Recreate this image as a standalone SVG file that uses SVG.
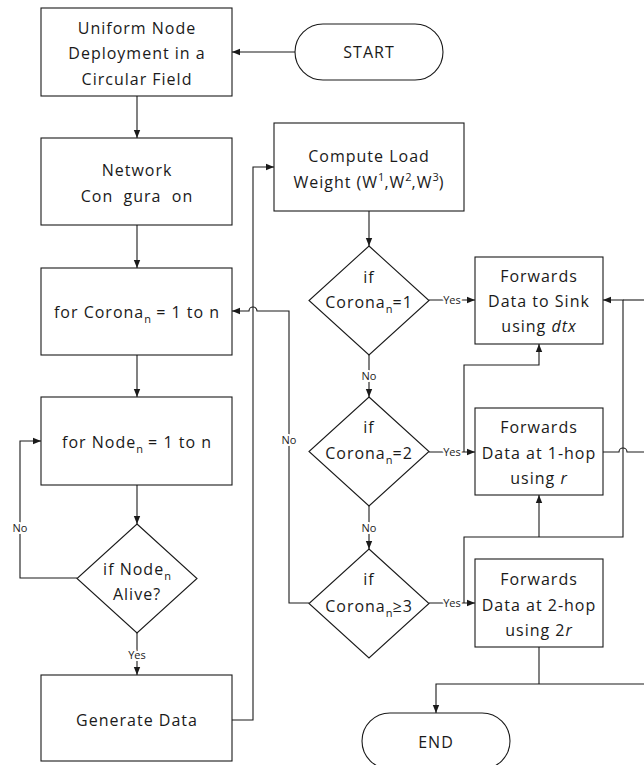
<svg xmlns="http://www.w3.org/2000/svg" width="644" height="765" viewBox="0 0 644 765">
<style>
.box{fill:#fff;stroke:#1a1a1a;stroke-width:1.1}
.t{font-family:"Open Sans","Noto Sans",sans-serif;font-size:16px;letter-spacing:1px;fill:#1a1a1a;text-anchor:middle}
.s{font-size:11px;letter-spacing:0}
.lbl{font-family:"Open Sans","Noto Sans",sans-serif;font-size:11px;fill:#1a1a1a;text-anchor:middle;stroke:#fff;stroke-width:4px;paint-order:stroke;stroke-linejoin:round}
.c{fill:none;stroke:#1a1a1a;stroke-width:1.1}
</style>
<defs>
<marker id="ah" viewBox="0 0 10 10" refX="10" refY="5" markerWidth="8" markerHeight="8" markerUnits="userSpaceOnUse" orient="auto"><path d="M0,1 L10,5 L0,9 z" fill="#1a1a1a"/></marker>
</defs>
<g id="connectors">
<path class="c" d="M295,52 H232" marker-end="url(#ah)"/>
<path class="c" d="M137,96 V138" marker-end="url(#ah)"/>
<path class="c" d="M137,225 V268" marker-end="url(#ah)"/>
<path class="c" d="M137,355 V397" marker-end="url(#ah)"/>
<path class="c" d="M137,485 V524" marker-end="url(#ah)"/>
<path class="c" d="M77,578 H20 V441 H41" marker-end="url(#ah)"/>
<path class="c" d="M137,633 V675" marker-end="url(#ah)"/>
<path class="c" d="M232,720 H253 V167 H274" marker-end="url(#ah)"/>
<path class="c" d="M369,211 V246" marker-end="url(#ah)"/>
<path class="c" d="M369,355 V397" marker-end="url(#ah)"/>
<path class="c" d="M369,506 V549" marker-end="url(#ah)"/>
<path class="c" d="M309,603 H289 V311 H257 A4,4 0 0 0 249,311 H232" marker-end="url(#ah)"/>
<path class="c" d="M429,300 H475" marker-end="url(#ah)"/>
<path class="c" d="M429,452 H475" marker-end="url(#ah)"/>
<path class="c" d="M429,603 H475" marker-end="url(#ah)"/>
<path class="c" d="M464,452 V365 H539 V344" marker-end="url(#ah)"/>
<path class="c" d="M464,603 V537 H623 V300 H603" marker-end="url(#ah)"/>
<path class="c" d="M539,537 V495" marker-end="url(#ah)"/>
<path class="c" d="M644,300 H623"/>
<path class="c" d="M603,452 H619 A4,4 0 0 1 627,452 H644"/>
<path class="c" d="M539,647 V684"/>
<path class="c" d="M644,684 H436 V713" marker-end="url(#ah)"/>
<text class="lbl" x="452" y="304">Yes</text>
<text class="lbl" x="452" y="456">Yes</text>
<text class="lbl" x="452" y="607">Yes</text>
<text class="lbl" x="137" y="659">Yes</text>
<text class="lbl" x="369" y="380">No</text>
<text class="lbl" x="369" y="532">No</text>
<text class="lbl" x="289" y="444">No</text>
<text class="lbl" x="20" y="532">No</text>
</g>
<g id="start">
<rect class="box" x="295" y="24" width="148" height="56" rx="28"/>
<text class="t" x="369" y="58">START</text>
</g>
<g id="deploy">
<rect class="box" x="41" y="8" width="191" height="88"/>
<text class="t" x="137" y="34">Uniform Node</text>
<text class="t" x="137" y="59">Deployment in a</text>
<text class="t" x="137" y="85">Circular Field</text>
</g>
<g id="netconf">
<rect class="box" x="41" y="138" width="191" height="87"/>
<text class="t" x="137" y="176">Network</text>
<text class="t" x="137" y="202">Con&#160;&#160;gura&#160;&#160;on</text>
</g>
<g id="corona-loop">
<rect class="box" x="41" y="268" width="191" height="87"/>
<text class="t" x="137" y="318">for Corona<tspan class="s" dy="5">n</tspan><tspan dy="-5"> = 1 to n</tspan></text>
</g>
<g id="node-loop">
<rect class="box" x="41" y="397" width="191" height="88"/>
<text class="t" x="137" y="448">for Node<tspan class="s" dy="5">n</tspan><tspan dy="-5"> = 1 to n</tspan></text>
</g>
<g id="alive">
<polygon class="box" points="137,524 197,578.5 137,633 77,578.5"/>
<text class="t" x="137" y="575">if Node<tspan class="s" dy="5">n</tspan></text>
<text class="t" x="137" y="600">Alive?</text>
</g>
<g id="generate">
<rect class="box" x="41" y="675" width="191" height="86"/>
<text class="t" x="137" y="726">Generate Data</text>
</g>
<g id="compute">
<rect class="box" x="274" y="123" width="190" height="88"/>
<text class="t" x="369" y="162">Compute Load</text>
<text class="t" x="369" y="188">Weight (W<tspan class="s" dy="-7">1</tspan><tspan dy="7">,W</tspan><tspan class="s" dy="-7">2</tspan><tspan dy="7">,W</tspan><tspan class="s" dy="-7">3</tspan><tspan dy="7">)</tspan></text>
</g>
<g id="d1">
<polygon class="box" points="369,246 429,300.5 369,355 309,300.5"/>
<text class="t" x="369" y="283">if</text>
<text class="t" x="369" y="308">Corona<tspan class="s" dy="5">n</tspan><tspan dy="-5">=1</tspan></text>
</g>
<g id="d2">
<polygon class="box" points="369,397 429,451.5 369,506 309,451.5"/>
<text class="t" x="369" y="433">if</text>
<text class="t" x="369" y="459">Corona<tspan class="s" dy="5">n</tspan><tspan dy="-5">=2</tspan></text>
</g>
<g id="d3">
<polygon class="box" points="369,549 429,603.5 369,658 309,603.5"/>
<text class="t" x="369" y="585">if</text>
<text class="t" x="369" y="612">Corona<tspan class="s" dy="5">n</tspan><tspan dy="-5">≥3</tspan></text>
</g>
<g id="fwd-sink">
<rect class="box" x="475" y="257" width="128" height="87"/>
<text class="t" x="539" y="282">Forwards</text>
<text class="t" x="539" y="307">Data to Sink</text>
<text class="t" x="539" y="332">using <tspan font-style="italic">dtx</tspan></text>
</g>
<g id="fwd-1hop">
<rect class="box" x="475" y="408" width="128" height="87"/>
<text class="t" x="539" y="433">Forwards</text>
<text class="t" x="539" y="459">Data at 1-hop</text>
<text class="t" x="539" y="484">using <tspan font-style="italic">r</tspan></text>
</g>
<g id="fwd-2hop">
<rect class="box" x="475" y="559" width="128" height="88"/>
<text class="t" x="539" y="585">Forwards</text>
<text class="t" x="539" y="611">Data at 2-hop</text>
<text class="t" x="539" y="636">using 2<tspan font-style="italic">r</tspan></text>
</g>
<g id="end">
<rect class="box" x="362" y="713" width="148" height="56" rx="28"/>
<text class="t" x="436" y="748">END</text>
</g>
</svg>
